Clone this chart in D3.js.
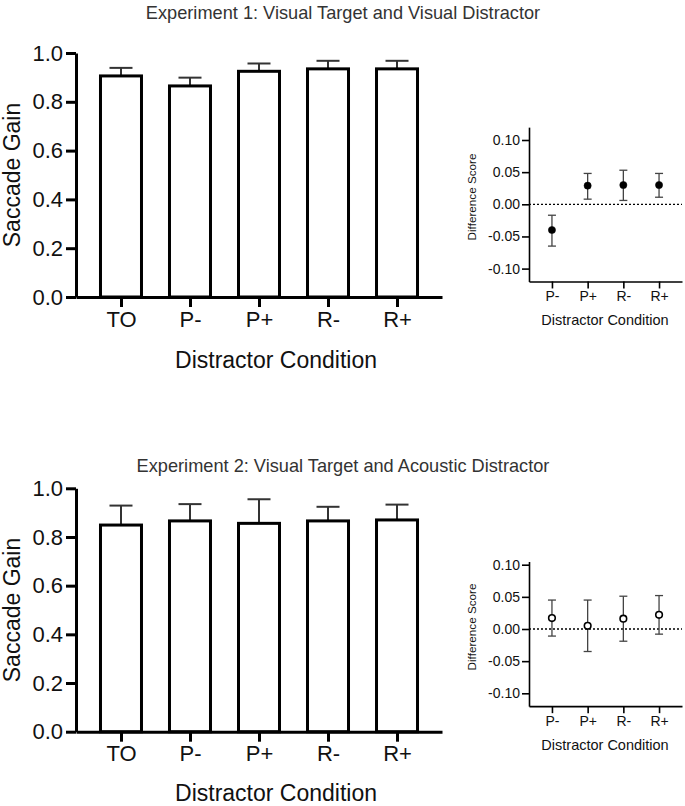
<!DOCTYPE html>
<html>
<head>
<meta charset="utf-8">
<script src="https://cdn.jsdelivr.net/npm/d3@7"></script>
<style>
  html, body { margin: 0; padding: 0; background: #fff; }
  svg { display: block; font-family: "Liberation Sans", Arial, Helvetica, sans-serif; }
</style>
</head>
<body>
<svg id="chart" width="685" height="806"></svg>
<script>
// ---------- data ----------
const titles = ["Experiment 1: Visual Target and Visual Distractor",
                "Experiment 2: Visual Target and Acoustic Distractor"];
const gainCategories = ["TO", "P-", "P+", "R-", "R+"];
const gainTicks = [0, 0.2, 0.4, 0.6, 0.8, 1.0];
const exp1Gain    = [0.906, 0.865, 0.925, 0.935, 0.935];
const exp1GainErr = [0.939, 0.899, 0.957, 0.968, 0.968];
const exp2Gain    = [0.849, 0.866, 0.856, 0.866, 0.870];
const exp2GainErr = [0.929, 0.935, 0.955, 0.924, 0.933];

const diffCategories = ["P-", "P+", "R-", "R+"];
const diffTicks = [-0.10, -0.05, 0.00, 0.05, 0.10];
const exp1Diff   = [-0.040, 0.029, 0.030, 0.030];
const exp1DiffLo = [-0.065, 0.008, 0.006, 0.011];
const exp1DiffHi = [-0.017, 0.048, 0.053, 0.048];
const exp2Diff   = [0.017, 0.005, 0.016, 0.022];
const exp2DiffLo = [-0.011, -0.035, -0.019, -0.008];
const exp2DiffHi = [0.045, 0.045, 0.051, 0.052];

const svg = d3.select("#chart");
const FONT = "'Liberation Sans', Arial, Helvetica, sans-serif";

function styleAxis(g, w) {
  g.select(".domain").attr("stroke", "#000").attr("stroke-width", w);
  g.selectAll(".tick line").attr("stroke", "#000").attr("stroke-width", w);
  g.selectAll(".tick text").attr("fill", "#111").style("font-family", FONT);
}

function mainChart(opts) {
  const { top, bottom, values, errs, title, titleY, labelGap } = opts;
  const left = 76, right = 442;
  const x = d3.scalePoint().domain(gainCategories).range([left, right]).padding(0.652);
  const y = d3.scaleLinear().domain([0, 1]).range([bottom, top]);
  const g = svg.append("g");

  g.append("text").attr("x", 343).attr("y", titleY)
    .attr("text-anchor", "middle").attr("font-size", 18.2).attr("fill", "#333")
    .text(title);

  const bw = 41;
  g.selectAll(".err").data(gainCategories).enter().append("g").each(function(c, i) {
    const e = d3.select(this);
    e.append("line").attr("x1", x(c)).attr("x2", x(c))
      .attr("y1", y(values[i])).attr("y2", y(errs[i]))
      .attr("stroke", "#333").attr("stroke-width", 2);
    e.append("line").attr("x1", x(c) - 11.5).attr("x2", x(c) + 11.5)
      .attr("y1", y(errs[i])).attr("y2", y(errs[i]))
      .attr("stroke", "#333").attr("stroke-width", 2);
  });
  g.selectAll(".bar").data(gainCategories).enter().append("rect")
    .attr("x", c => x(c) - bw / 2)
    .attr("y", (c, i) => y(values[i]))
    .attr("width", bw)
    .attr("height", (c, i) => y(0) - y(values[i]))
    .attr("fill", "#fff").attr("stroke", "#000").attr("stroke-width", 3);

  const ya = g.append("g").attr("transform", `translate(${left},0)`)
    .call(d3.axisLeft(y).tickValues(gainTicks).tickFormat(d3.format(".1f")).tickSize(10).tickSizeOuter(0).tickPadding(3));
  styleAxis(ya, 3);
  ya.selectAll(".tick text").attr("font-size", 22);

  const xa = g.append("g").attr("transform", `translate(0,${bottom})`)
    .call(d3.axisBottom(x).tickSize(10).tickSizeOuter(0).tickPadding(4));
  styleAxis(xa, 3);
  xa.selectAll(".tick text").attr("font-size", 22);

  g.append("text").attr("transform", `translate(20,${(top + bottom) / 2}) rotate(-90)`)
    .attr("text-anchor", "middle").attr("font-size", 23).attr("fill", "#111")
    .text("Saccade Gain");
  g.append("text").attr("x", (left + right) / 2 + 17).attr("y", bottom + labelGap)
    .attr("text-anchor", "middle").attr("font-size", 23).attr("fill", "#111")
    .text("Distractor Condition");
}

function insetChart(opts) {
  const { zeroY, topV, vals, lo, hi, filled, labelY } = opts;
  const left = 529, right = 682;
  const pxPerUnit = 643;
  const y = d3.scaleLinear().domain([-0.12, topV])
    .range([zeroY + 0.12 * pxPerUnit, zeroY - topV * pxPerUnit]);
  const x = d3.scalePoint().domain(diffCategories).range([left, right]).padding(0.643);
  const g = svg.append("g");
  const bottom = y(-0.12);

  g.append("line").attr("x1", left).attr("x2", right).attr("y1", y(0)).attr("y2", y(0))
    .attr("stroke", "#000").attr("stroke-width", 1.3).attr("stroke-dasharray", "2,2");

  diffCategories.forEach((c, i) => {
    g.append("line").attr("x1", x(c)).attr("x2", x(c)).attr("y1", y(lo[i])).attr("y2", y(hi[i]))
      .attr("stroke", "#444").attr("stroke-width", 1.3);
    [lo[i], hi[i]].forEach(v => {
      g.append("line").attr("x1", x(c) - 4).attr("x2", x(c) + 4).attr("y1", y(v)).attr("y2", y(v))
        .attr("stroke", "#444").attr("stroke-width", 1.3);
    });
  });
  g.selectAll(".pt").data(diffCategories).enter().append("circle")
    .attr("cx", c => x(c)).attr("cy", (c, i) => y(vals[i]))
    .attr("r", filled ? 3.6 : 3.3)
    .attr("fill", filled ? "#000" : "#fff")
    .attr("stroke", "#000").attr("stroke-width", filled ? 0.5 : 1.6);

  const ya = g.append("g").attr("transform", `translate(${left},0)`)
    .call(d3.axisLeft(y).tickValues(diffTicks).tickFormat(d3.format(".2f")).tickSize(7).tickSizeOuter(0).tickPadding(2));
  styleAxis(ya, 1.6);
  ya.selectAll(".tick text").attr("font-size", 14).text(d => d3.format(".2f")(d).replace("−", "-"));

  const xa = g.append("g").attr("transform", `translate(0,${bottom})`)
    .call(d3.axisBottom(x).tickSize(7).tickSizeOuter(0).tickPadding(3));
  styleAxis(xa, 1.6);
  xa.selectAll(".tick text").attr("font-size", 14);

  g.append("text").attr("transform", `translate(475.5,${labelY}) rotate(-90)`)
    .attr("text-anchor", "middle").attr("font-size", 11.7).attr("fill", "#111")
    .text("Difference Score");
  g.append("text").attr("x", 605).attr("y", bottom + 44)
    .attr("text-anchor", "middle").attr("font-size", 14.5).attr("fill", "#111")
    .text("Distractor Condition");
}

mainChart({ top: 53, bottom: 297, values: exp1Gain, errs: exp1GainErr, title: titles[0], titleY: 19, labelGap: 71 });
mainChart({ top: 488.3, bottom: 731.7, values: exp2Gain, errs: exp2GainErr, title: titles[1], titleY: 472, labelGap: 69 });
insetChart({ zeroY: 204.3, topV: 0.12, vals: exp1Diff, lo: exp1DiffLo, hi: exp1DiffHi, filled: true, labelY: 197 });
insetChart({ zeroY: 629, topV: 0.105, vals: exp2Diff, lo: exp2DiffLo, hi: exp2DiffHi, filled: false, labelY: 627 });
</script>
</body>
</html>
